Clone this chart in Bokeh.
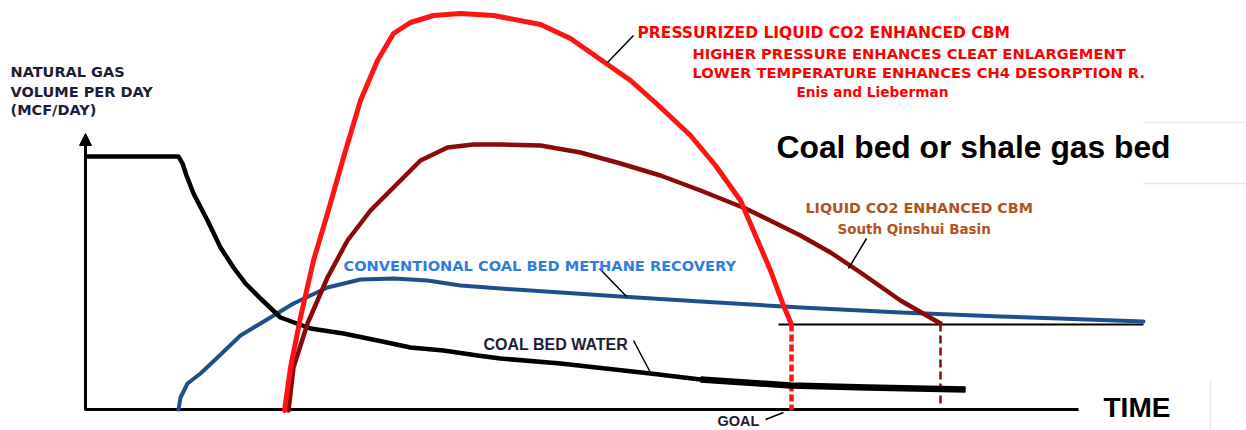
from bokeh.plotting import figure
from bokeh.models import Range1d, Arrow, NormalHead
from bokeh.core.properties import value
from bokeh.embed import file_html
from bokeh.resources import INLINE

# ---- data (time units along x, gas/water volume units along y) ----
water_time = [0, 93, 97, 101, 108, 122, 135, 148, 160, 175, 195, 225, 258, 292, 325, 358, 392, 415, 475, 565, 615, 705, 782, 880]
water_vol = [254, 254, 247, 235, 217, 190, 163, 143, 127, 112, 93, 82, 77, 70, 63, 60, 55, 52, 47, 37, 31, 25, 23, 21]

conv_time = [93, 95, 102, 115, 132, 155, 175, 208, 242, 275, 308, 342, 375, 415, 475, 535, 615, 715, 815, 915, 1058]
conv_vol = [1, 13, 27, 37, 53, 75, 87, 107, 123, 131, 132, 130, 125, 122, 118, 114, 109, 103, 98, 94, 89]

press_time = [199, 205, 215, 228, 242, 258, 275, 292, 308, 325, 348, 375, 408, 455, 485, 515, 545, 572, 605, 630, 655, 670, 685, 698, 706]
press_vol = [0, 43, 93, 150, 197, 253, 310, 350, 377, 388, 395, 397, 395, 386, 372, 351, 330, 306, 275, 245, 210, 175, 140, 105, 86]

liq_time = [203, 208, 222, 242, 262, 285, 308, 335, 362, 388, 415, 455, 495, 535, 575, 615, 660, 715, 745, 775, 815, 855]
liq_vol = [0, 43, 87, 133, 170, 200, 223, 250, 263, 266, 266, 265, 258, 247, 235, 220, 202, 175, 158, 138, 110, 87]

goal_vol = 86
goal_time_start, goal_time_end = 693, 1058
press_goal_time = 706
liq_goal_time, liq_goal_vol = 855, 87
time_axis_end = 993
vol_axis_top = 277

# leader lines: x0, y0, x1, y1
lead_x0 = [522, 514, 548, 763, 680]
lead_y0 = [348, 142, 70, 142, -9]
lead_x1 = [548, 541, 566, 781, 698]
lead_y1 = [375, 114, 36, 172, -2]

p = figure(width=1246, height=430, output_backend="svg", toolbar_location=None,
           x_range=Range1d(-85, 1161), y_range=Range1d(-20, 410),
           x_axis_location=None, y_axis_location=None, min_border=0)
p.outline_line_color = None
p.xgrid.visible = False
p.ygrid.visible = False
p.background_fill_color = "white"

# faint slide decorations at right
p.segment(x0=[1058, 1058, 1125], y0=[288, 227, 30], x1=[1161, 1161, 1125], y1=[288, 227, -20],
          line_color="#e6e6e6", line_width=1.5)

# axes
p.line([0, time_axis_end], [1, 1], line_color="black", line_width=3)
p.add_layout(Arrow(end=NormalHead(size=12, fill_color="black", line_color="black", line_width=1),
                   x_start=0, y_start=0, x_end=0, y_end=vol_axis_top,
                   line_color="black", line_width=3))

# goal line and drops
p.line([goal_time_start, goal_time_end], [goal_vol, goal_vol], line_color="black", line_width=2)
p.line([press_goal_time, press_goal_time], [goal_vol, 0], line_color="#ff1414", line_width=4.5, line_dash="7 3")
p.line([liq_goal_time, liq_goal_time], [liq_goal_vol, 4], line_color="#8a0a0a", line_width=2.5, line_dash="8 4")

# curves
p.line(conv_time, conv_vol, line_color="#1f4f8a", line_width=4, line_join="round", line_cap="round")
p.line(water_time, water_vol, line_color="black", line_width=4.5, line_join="round")
p.line(water_time[-4:], water_vol[-4:], line_color="black", line_width=6.5, line_join="round")
p.line(liq_time, liq_vol, line_color="#8a0a0a", line_width=4.5, line_join="round", line_cap="round")
p.line(press_time, press_vol, line_color="#ff1414", line_width=5, line_join="round", line_cap="round")

# leaders
p.segment(x0=lead_x0, y0=lead_y0, x1=lead_x1, y1=lead_y1, line_color="black", line_width=1.5)


def label(x, y, txt, color, size, font="DejaVu Sans", style="bold"):
    p.text(x=[x], y=[y + 0.38 * size], text=[txt], text_color=color, text_font=value(font),
           text_font_size=f"{size}px", text_font_style=style,
           text_align="left", text_baseline="alphabetic")


dark = "#1d1d35"
label(-75, 332.7, "NATURAL GAS", dark, 14.5)
label(-75, 313.3, "VOLUME PER DAY", dark, 14.5)
label(-75, 294.5, "(MCF/DAY)", dark, 14.5)

label(552, 371.7, "PRESSURIZED LIQUID CO2 ENHANCED CBM", "#ff0000", 15.5)
label(607, 351.7, "HIGHER PRESSURE ENHANCES CLEAT ENLARGEMENT", "#ff0000", 14.7)
label(607, 332.7, "LOWER TEMPERATURE ENHANCES CH4 DESORPTION R.", "#ff0000", 14.7)
label(711, 313.5, "Enis and Lieberman", "#ff0000", 13.7)

label(691, 251, "Coal bed or shale gas bed", "black", 31.8, font="Liberation Sans")

label(720, 196.7, "LIQUID  CO2 ENHANCED CBM", "#b4521e", 14.3)
label(752, 176.7, "South Qinshui Basin", "#b4521e", 13.5)

label(258, 139.3, "CONVENTIONAL COAL BED METHANE RECOVERY", "#2e7ee0", 14.6)
label(398, 60, "COAL BED WATER", dark, 16, font="Liberation Sans")
label(632, -16, "GOAL", dark, 14.5, font="Liberation Sans")
label(1018, -8, "TIME", "black", 28, font="Liberation Sans")

open("out.html", "w").write(file_html(p, INLINE))
